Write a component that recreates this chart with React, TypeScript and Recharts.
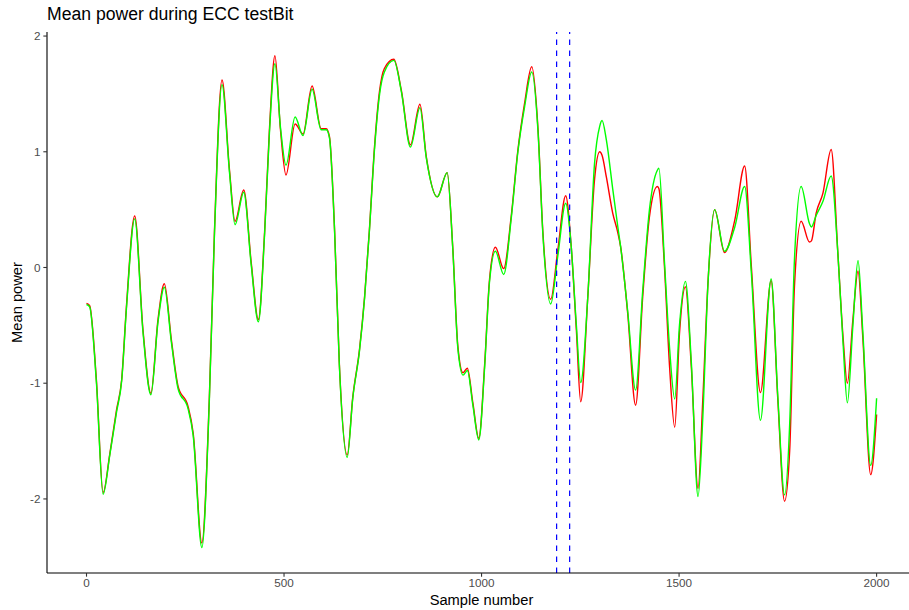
import { LineChart, Line, XAxis, YAxis, ReferenceLine } from "recharts";

// sample positions (x) and the two mean power traces
const sampleX = [
  0, 8, 25, 42, 59, 76, 89, 101, 122, 143, 163, 181, 197, 215, 232, 257, 270, 292,
  311, 324, 343, 362, 376, 398, 417, 435, 451, 463, 477, 491, 505, 528, 548, 571,
  594, 607, 615, 628, 640, 660, 674, 691, 704, 716, 729, 742, 754, 778, 797, 820,
  844, 860, 888, 913, 927, 940, 953, 964, 978, 993, 1008, 1020, 1035, 1056, 1075,
  1092, 1109, 1127, 1143, 1155, 1175, 1193, 1213, 1227, 1240, 1251, 1269, 1286,
  1299, 1305, 1316, 1332, 1345, 1352, 1370, 1390, 1408, 1425, 1445, 1449, 1463,
  1476, 1489, 1501, 1516, 1531, 1548, 1560, 1573, 1590, 1615, 1641, 1666, 1683,
  1706, 1733, 1750, 1767, 1780, 1792, 1809, 1830, 1835, 1847, 1864, 1885, 1902,
  1915, 1926, 1940, 1953, 1965, 1985, 2000,
];

const redPower = [
  -0.31, -0.33, -0.97, -1.945, -1.61, -1.23, -0.97, -0.34, 0.445, -0.54, -1.087, -0.45, -0.14, -0.63, -1.03, -1.2, -1.43, -2.38,
  -1.12, 0.32, 1.62, 0.84, 0.4, 0.67, 0.04, -0.45, 0.32, 1.19, 1.83, 1.19, 0.8, 1.24, 1.153, 1.568,
  1.2, 1.2, 1.13, 0.32, -0.83, -1.62, -1.12, -0.71, -0.25, 0.32, 1.04, 1.53, 1.72, 1.8, 1.53, 1.06,
  1.41, 0.96, 0.61, 0.82, 0.18, -0.68, -0.91, -0.87, -1.17, -1.476, -0.83, -0.11, 0.175, -0.01, 0.44,
  1.015, 1.42, 1.735, 1.19, 0.32, -0.275, 0.15, 0.62, 0.18, -0.54, -1.16, -0.25, 0.76,
  1.0, 0.97, 0.78, 0.47, 0.3, 0.18, -0.4, -1.19, -0.25, 0.44, 0.7, 0.68, 0.007,
  -0.86, -1.38, -0.57, -0.166, -0.86, -1.91, -1.145, -0.14, 0.5, 0.13, 0.41, 0.877, 0.007,
  -1.08, -0.114, -1.145, -2.02, -1.58, -0.166, 0.4, 0.22, 0.23, 0.47, 0.64, 1.02, 0.12,
  -0.6, -1.0, -0.45, -0.03, -0.6, -1.79, -1.27,
];

const greenPower = [
  -0.32, -0.34, -0.99, -1.96, -1.62, -1.25, -0.98, -0.36, 0.42, -0.56, -1.1, -0.47, -0.17, -0.65, -1.05, -1.22, -1.45, -2.42,
  -1.14, 0.3, 1.58, 0.82, 0.37, 0.65, 0.02, -0.47, 0.3, 1.16, 1.76, 1.21, 0.885, 1.3, 1.14, 1.54,
  1.19, 1.19, 1.12, 0.31, -0.84, -1.64, -1.13, -0.72, -0.26, 0.31, 1.02, 1.5, 1.69, 1.79, 1.52, 1.04,
  1.38, 0.95, 0.61, 0.82, 0.17, -0.7, -0.93, -0.89, -1.19, -1.49, -0.85, -0.13, 0.14, -0.06, 0.42,
  1.0, 1.39, 1.69, 1.17, 0.3, -0.315, 0.1, 0.555, 0.18, -0.5, -0.995, -0.25, 0.9,
  1.22, 1.27, 1.1, 0.68, 0.35, 0.18, -0.38, -1.06, -0.2, 0.5, 0.84, 0.857, 0.05,
  -0.7, -1.136, -0.5, -0.12, -0.82, -1.98, -1.3, -0.15, 0.5, 0.14, 0.35, 0.7, -0.05,
  -1.32, -0.1, -1.12, -1.965, -1.35, 0.065, 0.7, 0.38, 0.35, 0.45, 0.57, 0.79, 0.12,
  -0.65, -1.17, -0.5, 0.06, -0.55, -1.71, -1.13,
];

const xTicks = [0, 500, 1000, 1500, 2000];
const yTicks = [-2, -1, 0, 1, 2];
const markers = [1190, 1223];

const data = sampleX.map((x, i) => ({ x, red: redPower[i], green: greenPower[i] }));

const font = "'Liberation Sans', Arial, Helvetica, sans-serif";
const tickStyle = { fontFamily: font, fontSize: 11.7, fill: "#4D4D4D" };

export default function App() {
  return (
    <div style={{ position: "absolute", left: 0, top: 0, width: 909, height: 610, background: "#fff" }}>
      <div
        style={{
          position: "absolute",
          left: 47,
          top: 4,
          fontFamily: font,
          fontSize: 17.6,
          color: "#000",
          whiteSpace: "nowrap",
        }}
      >
        Mean power during ECC testBit
      </div>
      <LineChart width={909} height={610} data={data} margin={{ top: 32, right: 0, bottom: 0, left: 0 }}>
        <XAxis
          dataKey="x"
          type="number"
          domain={[-100, 2082]}
          allowDataOverflow
          ticks={xTicks}
          height={37}
          tick={tickStyle}
          tickSize={3.67}
          tickMargin={2.5}
          axisLine={{ stroke: "#000", strokeWidth: 1.1 }}
          tickLine={{ stroke: "#333333", strokeWidth: 1.1 }}
          label={() => (
            <text x={481.5} y={605} textAnchor="middle" fontFamily={font} fontSize={14.7} fill="#000">
              Sample number
            </text>
          )}
        />
        <YAxis
          type="number"
          domain={[-2.64, 2.035]}
          allowDataOverflow
          ticks={yTicks}
          width={47}
          tick={tickStyle}
          tickSize={3.67}
          tickMargin={2.9}
          axisLine={{ stroke: "#000", strokeWidth: 1.1 }}
          tickLine={{ stroke: "#333333", strokeWidth: 1.1 }}
          label={() => (
            <text
              x={21.5}
              y={302.5}
              transform="rotate(-90 21.5 302.5)"
              textAnchor="middle"
              fontFamily={font}
              fontSize={14.7}
              fill="#000"
            >
              Mean power
            </text>
          )}
        />
        <Line type="monotone" dataKey="red" stroke="#FF0000" strokeWidth={1.42} dot={false} isAnimationActive={false} />
        <Line type="monotone" dataKey="green" stroke="#00FF00" strokeWidth={1.42} dot={false} isAnimationActive={false} />
        {markers.map((m) => (
          <ReferenceLine key={m} x={m} stroke="#0000FF" strokeWidth={1.2} strokeDasharray="5.5 5.5" />
        ))}
      </LineChart>
    </div>
  );
}
